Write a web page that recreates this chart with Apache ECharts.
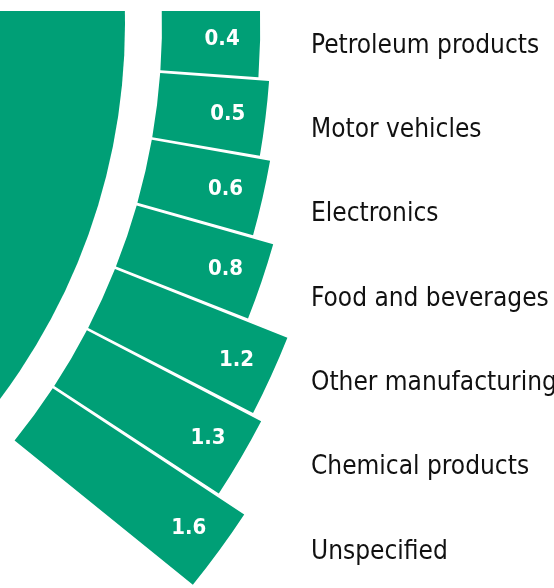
<!DOCTYPE html>
<html lang="en">

<head>
    <meta charset="UTF-8">
    <title>Sectors</title>
    <script src="https://cdn.jsdelivr.net/npm/echarts@6/dist/echarts.min.js"></script>
    <style>
        body { margin: 0; background: #fff; }
    </style>
</head>

<body>
    <div id="main" style="width: 554px;height:588px;"></div>
    <script type="text/javascript">
        // categories, top to bottom
        let categories = ['Petroleum products', 'Motor vehicles', 'Electronics', 'Food and beverages',
            'Other manufacturing', 'Chemical products', 'Unspecified'];
        let values = [0.4, 0.5, 0.6, 0.8, 1.2, 1.3, 1.6];
        // the big disc on the left
        let restValue = [100];

        let green = '#009f76';
        let narrow = "'Liberation Sans Narrow', 'DejaVu Sans Condensed', sans-serif";

        let options = {
            animation: false,
            polar: { center: [-500, 24], radius: [662, 935] },
            angleAxis: {
                type: 'category',
                data: categories,
                startAngle: 1.7,
                endAngle: -39.1,
                clockwise: true,
                show: false
            },
            radiusAxis: { type: 'value', min: -0.5, max: 2, startValue: -0.5, show: false },
            grid: { left: 0, right: 243, top: 4, bottom: -6, outerBoundsMode: 'none', containLabel: false },
            xAxis: { type: 'value', show: false },
            yAxis: {
                type: 'category',
                data: categories,
                inverse: true,
                position: 'right',
                axisLine: { show: false },
                axisTick: { show: false },
                axisLabel: { margin: 0, color: '#111', fontSize: 26, fontFamily: narrow }
            },
            series: [{
                type: 'pie',
                center: [-500, 24],
                radius: 625,
                silent: true,
                label: { show: false },
                itemStyle: { color: green },
                data: restValue
            }, {
                name: 'share',
                type: 'bar',
                coordinateSystem: 'polar',
                barCategoryGap: '4%',
                itemStyle: { color: green },
                label: {
                    show: true,
                    position: 'insideEnd',
                    rotate: 0,
                    distance: 38,
                    align: 'center',
                    verticalAlign: 'middle',
                    color: '#fff',
                    fontSize: 22,
                    fontWeight: 'bold',
                    fontFamily: narrow,
                    formatter: (p) => p.value.toFixed(1)
                },
                data: values
            }],
            graphic: [{
                type: 'rect',
                left: 0,
                top: 0,
                z: 100,
                shape: { width: 554, height: 11 },
                style: { fill: '#fff' }
            }]
        };

        let myChart = echarts.init(document.getElementById('main'));
        myChart.setOption(options);
    </script>
</body>

</html>
